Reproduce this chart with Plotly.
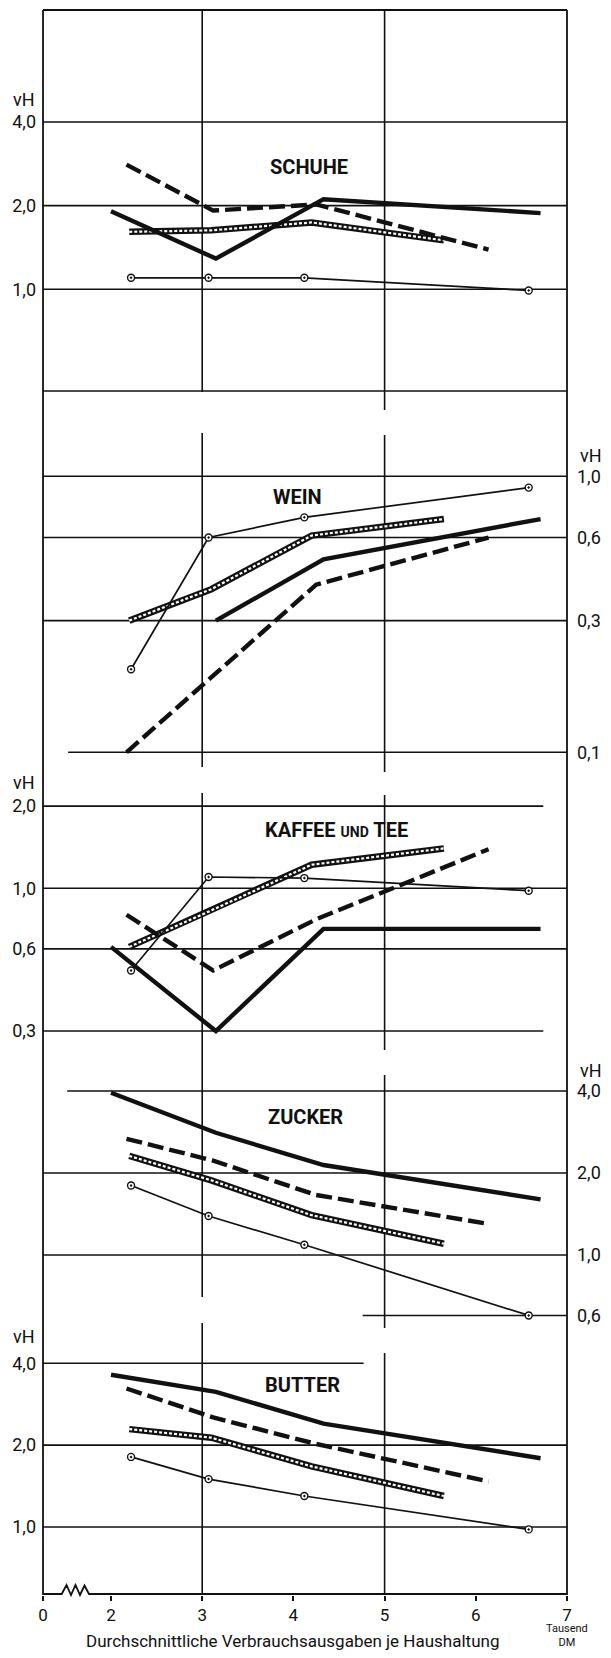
import math
import plotly.graph_objects as go

# ---------------- data ----------------
PANELS = ["SCHUHE", "WEIN", "KAFFEE UND TEE", "ZUCKER", "BUTTER"]

# x positions (Tausend DM) of the four household series
X_SOLID = [2.0, 3.15, 4.33, 6.71]
X_DASH = [2.17, 3.12, 4.25, 6.14]
X_HATCH = [2.2, 3.1, 4.2, 5.65]
X_CIRC = [2.22, 3.07, 4.12, 6.58]

SCHUHE_SOLID = [1.91, 1.29, 2.11, 1.88]
SCHUHE_DASH = [2.81, 1.92, 2.02, 1.39]
SCHUHE_HATCH = [1.61, 1.63, 1.74, 1.50]
SCHUHE_CIRC = [1.10, 1.10, 1.10, 0.99]

WEIN_SOLID = [None, 0.30, 0.50, 0.70]
WEIN_DASH = [0.10, 0.19, 0.405, 0.60]
WEIN_HATCH = [0.30, 0.39, 0.61, 0.70]
WEIN_CIRC = [0.20, 0.60, 0.71, 0.91]

KAFFEE_SOLID = [0.61, 0.30, 0.71, 0.71]
KAFFEE_DASH = [0.80, 0.50, 0.77, 1.39]
KAFFEE_HATCH = [0.61, 0.83, 1.22, 1.40]
KAFFEE_CIRC = [0.50, 1.10, 1.09, 0.98]

ZUCKER_SOLID = [3.94, 2.81, 2.14, 1.60]
ZUCKER_DASH = [2.67, 2.22, 1.66, 1.30]
ZUCKER_HATCH = [2.31, 1.88, 1.40, 1.10]
ZUCKER_CIRC = [1.80, 1.39, 1.09, 0.60]

BUTTER_SOLID = [3.63, 3.14, 2.40, 1.79]
BUTTER_DASH = [3.23, 2.53, 2.02, 1.47]
BUTTER_HATCH = [2.29, 2.13, 1.67, 1.30]
BUTTER_CIRC = [1.81, 1.50, 1.30, 0.98]

SCHUHE_TICKS = [4.0, 2.0, 1.0]
WEIN_TICKS = [1.0, 0.6, 0.3, 0.1]
KAFFEE_TICKS = [2.0, 1.0, 0.6, 0.3]
ZUCKER_TICKS = [4.0, 2.0, 1.0, 0.6]
BUTTER_TICKS = [4.0, 2.0, 1.0]

X_TICKS = [2, 3, 4, 5, 6, 7]
X_TICK_LABELS = ["2", "3", "4", "5", "6", "7"]
X_BREAK_LABEL = "0"
X_GRID = [3, 5]

X_TITLE = "Durchschnittliche Verbrauchsausgaben je Haushaltung"
X_UNIT = "Tausend<br>DM"
Y_UNIT = "vH"

SERIES = {
    "SCHUHE": (SCHUHE_SOLID, SCHUHE_DASH, SCHUHE_HATCH, SCHUHE_CIRC, SCHUHE_TICKS),
    "WEIN": (WEIN_SOLID, WEIN_DASH, WEIN_HATCH, WEIN_CIRC, WEIN_TICKS),
    "KAFFEE UND TEE": (KAFFEE_SOLID, KAFFEE_DASH, KAFFEE_HATCH, KAFFEE_CIRC, KAFFEE_TICKS),
    "ZUCKER": (ZUCKER_SOLID, ZUCKER_DASH, ZUCKER_HATCH, ZUCKER_CIRC, ZUCKER_TICKS),
    "BUTTER": (BUTTER_SOLID, BUTTER_DASH, BUTTER_HATCH, BUTTER_CIRC, BUTTER_TICKS),
}

# ---------------- geometry / style ----------------
BODY = 8                      # default page margin around the plot div
FIG_W, FIG_H = 595, 1642
ML, MR, MT, MB = 35, 36, 2, 55
PW, PH = FIG_W - ML - MR, FIG_H - MT - MB
# page coordinates of the plot area
P_LEFT, P_TOP = BODY + ML, BODY + MT
P_BOT = P_TOP + PH
X_UNIT_PX = 91.2
X2_PX = 111
X_RANGE = [2 - (X2_PX - P_LEFT) / X_UNIT_PX, 7.0]

# panel: (side, reference value, its page y, pixels per decade)
GEOM = {
    "SCHUHE": ("left", 1.0, 289.3, 277.9),
    "WEIN": ("right", 1.0, 476.3, 276.0),
    "KAFFEE UND TEE": ("left", 1.0, 888.3, 273.0),
    "ZUCKER": ("right", 1.0, 1255.0, 272.4),
    "BUTTER": ("left", 1.0, 1527.0, 272.0),
}
# partial gridlines: (panel, value) -> (x0, x1) in data units (None = frame edge)
GRID_EXTENT = {
    ("WEIN", 0.1): (1.53, None),
    ("KAFFEE UND TEE", 2.0): (None, 6.74),
    ("KAFFEE UND TEE", 0.3): (None, 6.74),
    ("ZUCKER", 4.0): (1.52, None),
    ("ZUCKER", 0.6): (4.76, None),
    ("BUTTER", 4.0): (None, 4.77),
}
TITLE_POS = {  # page centre of panel titles
    "SCHUHE": (309, 167), "WEIN": (297, 497), "KAFFEE UND TEE": (336, 830),
    "ZUCKER": (305, 1117), "BUTTER": (302, 1385),
}
VH_SHIFT = {"SCHUHE": 22, "WEIN": 21, "KAFFEE UND TEE": 24, "ZUCKER": 21, "BUTTER": 27}
VGRID_SEGMENTS = {
    3: [(10, 392), (433, 767), (793, 1297), (1323, 1595)],
    5: [(10, 410), (435, 772), (795, 1050), (1075, 1328), (1353, 1595)],
}
SEPARATOR_PX = 391
ZIGZAG_PX = [(P_LEFT, 1594), (61.7, 1594), (66.5, 1585), (71, 1595), (75.5, 1585),
             (80, 1595), (84.5, 1585.5), (89, 1594), (P_LEFT + PW, 1594)]

FONT = "Roboto, Liberation Sans, DejaVu Sans"
INK = "#111111"


def fmt(v):
    return f"{v:.1f}".replace(".", ",")


def pxx(px):
    return (px - P_LEFT) / PW


def pxy(py):
    return (P_BOT - py) / PH


def text(t, px, py, size, bold=False):
    return dict(text=f"<b>{t}</b>" if bold else t, xref="paper", yref="paper",
                x=pxx(px), y=pxy(py), xanchor="center", yanchor="middle",
                showarrow=False, font=dict(size=size, family=FONT, color=INK))


fig = go.Figure()
layout = dict(
    width=FIG_W, height=FIG_H, margin=dict(l=ML, r=MR, t=MT, b=MB, pad=0),
    paper_bgcolor="white", plot_bgcolor="white", showlegend=False,
    font=dict(family=FONT, color=INK, size=18),
    xaxis=dict(range=X_RANGE, tickvals=[X_RANGE[0]] + X_TICKS,
               ticktext=[X_BREAK_LABEL] + X_TICK_LABELS, ticks="outside",
               ticklen=5, tickwidth=1.6, tickcolor=INK, showgrid=False,
               zeroline=False, showline=False, tickfont=dict(size=17, family=FONT),
               ticklabelstandoff=0, fixedrange=True),
)

shapes = []
annotations = []

for i, name in enumerate(PANELS):
    side, ref_val, ref_px, D = GEOM[name]
    yname = "y" if i == 0 else f"y{i + 1}"
    key = "yaxis" if i == 0 else f"yaxis{i + 1}"
    solid, dash, hatch, circ, ticks = SERIES[name]
    hi = math.log10(ref_val) + (ref_px - P_TOP) / D
    lo = math.log10(ref_val) - (P_BOT - ref_px) / D
    ax = dict(type="log", range=[lo, hi], domain=[0, 1], side=side,
              tickvals=ticks, ticktext=[fmt(v) for v in ticks], ticks="",
              showgrid=False, zeroline=False, showline=False,
              tickfont=dict(size=18, family=FONT),
              ticklabelstandoff=6 if side == "left" else 9,
              fixedrange=True)
    if i > 0:
        ax["overlaying"] = "y"
    layout[key] = ax

    # gridlines
    for v in ticks:
        x0, x1 = GRID_EXTENT.get((name, v), (None, None))
        shapes.append(dict(
            type="line", xref="x", yref=yname,
            x0=X_RANGE[0] if x0 is None else x0, x1=X_RANGE[1] if x1 is None else x1,
            y0=v, y1=v, line=dict(color=INK, width=1.6), layer="below"))

    # series
    fig.add_trace(go.Scatter(x=X_HATCH, y=hatch, yaxis=yname, mode="lines",
                             line=dict(color=INK, width=6.5), hoverinfo="skip"))
    fig.add_trace(go.Scatter(x=X_HATCH, y=hatch, yaxis=yname, mode="lines",
                             line=dict(color="white", width=2.2, dash="3px,2px"),
                             hoverinfo="skip"))
    fig.add_trace(go.Scatter(x=X_DASH, y=dash, yaxis=yname, mode="lines",
                             line=dict(color=INK, width=4.4, dash="16px,6px")))
    fig.add_trace(go.Scatter(x=X_SOLID, y=solid, yaxis=yname, mode="lines",
                             line=dict(color=INK, width=4.4), connectgaps=False))
    fig.add_trace(go.Scatter(x=X_CIRC, y=circ, yaxis=yname, mode="lines+markers",
                             line=dict(color=INK, width=1.7),
                             marker=dict(symbol="circle-dot", size=7, color="white",
                                         line=dict(color=INK, width=1.4))))

    # panel title
    tx, ty = TITLE_POS[name]
    label = name.replace(" UND ", " <span style='font-size:14px'>UND</span> ")
    annotations.append(text(label, tx, ty, 20, bold=True))
    # vH unit above the top tick label
    annotations.append(dict(
        text=Y_UNIT, xref="paper", yref=yname, y=math.log10(max(ticks)),
        yshift=VH_SHIFT[name], yanchor="middle", showarrow=False,
        font=dict(size=18, family=FONT, color=INK),
        x=0 if side == "left" else 1, xanchor="right" if side == "left" else "left",
        xshift=-6 if side == "left" else 11))

# vertical gridlines (with the gaps of the original)
for xv in X_GRID:
    for a, b in VGRID_SEGMENTS[xv]:
        shapes.append(dict(type="line", xref="x", yref="paper", x0=xv, x1=xv,
                           y0=pxy(b), y1=pxy(a), line=dict(color=INK, width=1.6),
                           layer="below"))

# frame
shapes += [
    dict(type="line", xref="paper", yref="paper", x0=0, x1=0, y0=0, y1=1,
         line=dict(color=INK, width=1.8)),
    dict(type="line", xref="paper", yref="paper", x0=1, x1=1, y0=0, y1=1,
         line=dict(color=INK, width=1.8)),
    dict(type="line", xref="paper", yref="paper", x0=0, x1=1, y0=1, y1=1,
         line=dict(color=INK, width=1.8)),
    dict(type="line", xref="paper", yref="paper", x0=0, x1=1,
         y0=pxy(SEPARATOR_PX), y1=pxy(SEPARATOR_PX), line=dict(color=INK, width=1.6)),
]
path = "M " + " L ".join(f"{pxx(a):.5f},{pxy(b):.5f}" for a, b in ZIGZAG_PX)
shapes.append(dict(type="path", xref="paper", yref="paper", path=path,
                   line=dict(color=INK, width=1.8)))

# axis titles
annotations.append(text(X_TITLE, 292, 1641, 17))
annotations.append(dict(text=X_UNIT, xref="paper", yref="paper", x=pxx(567),
                        y=pxy(1650), xanchor="center", yanchor="bottom",
                        showarrow=False, borderpad=0,
                        font=dict(size=11, family=FONT, color=INK)))

layout["shapes"] = shapes
layout["annotations"] = annotations
fig.update_layout(**layout)
fig.write_html("out.html")
